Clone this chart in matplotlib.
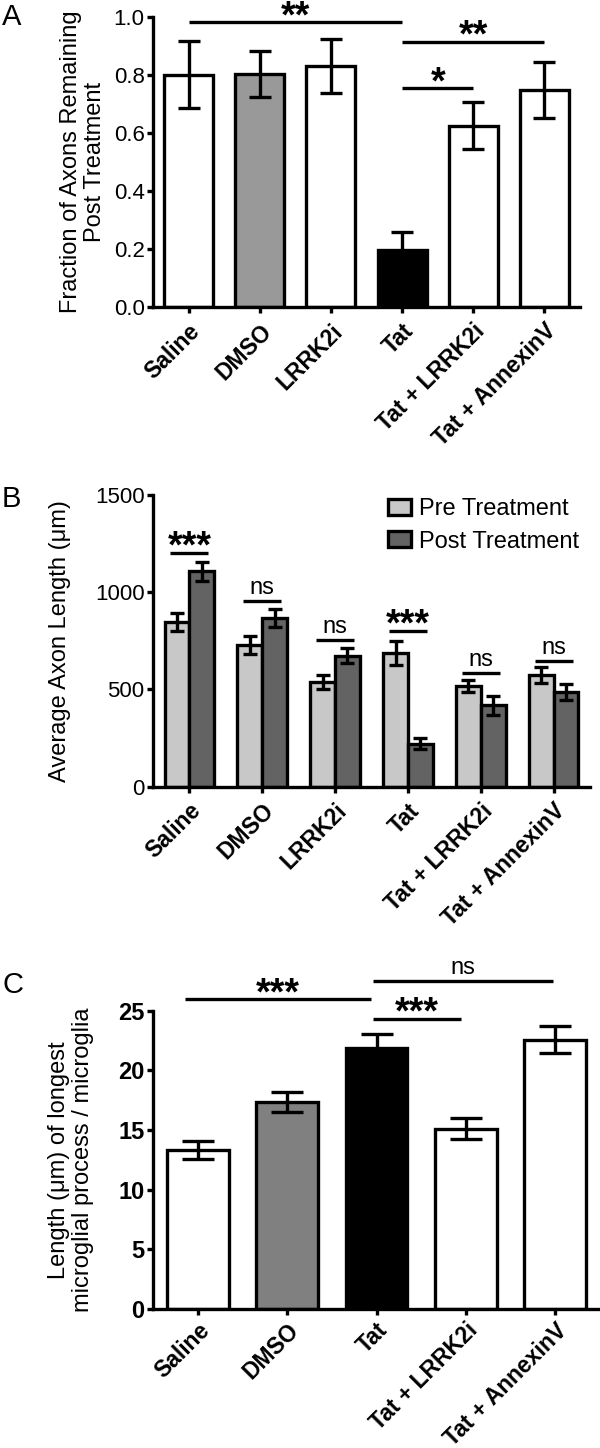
import numpy as np
import matplotlib
matplotlib.use("Agg")
import matplotlib.pyplot as plt

plt.rcParams['font.family'] = ['Liberation Sans', 'DejaVu Sans']

# Panel A data
groups_a = ['Saline', 'DMSO', 'LRRK2i', 'Tat', 'Tat + LRRK2i', 'Tat + AnnexinV']
frac_a = [0.80, 0.803, 0.831, 0.197, 0.625, 0.748]
err_a = [0.115, 0.08, 0.093, 0.06, 0.082, 0.097]
colors_a = ['white', '#999999', 'white', 'black', 'white', 'white']

# Panel B data
groups_b = ['Saline', 'DMSO', 'LRRK2i', 'Tat', 'Tat + LRRK2i', 'Tat + AnnexinV']
pre_b = [846, 728, 537, 688, 517, 574]
pre_err_b = [45, 47, 35, 63, 32, 39]
post_b = [1108, 868, 673, 222, 418, 487]
post_err_b = [50, 46, 39, 30, 49, 41]
sig_b = ['***', 'ns', 'ns', '***', 'ns', 'ns']
sig_y_b = [1203, 957, 754, 802, 586, 648]

# Panel C data
groups_c = ['Saline', 'DMSO', 'Tat', 'Tat + LRRK2i', 'Tat + AnnexinV']
len_c = [13.3, 17.35, 21.9, 15.12, 22.58]
err_c = [0.74, 0.8, 1.15, 0.86, 1.16]
colors_c = ['white', '#808080', 'black', 'white', 'white']

LW = 2.4
W, H = 600, 1448
fig = plt.figure(figsize=(W / 100, H / 100), dpi=100)


def px_axes(left, right, top, bottom):
    return fig.add_axes([left / W, 1 - bottom / H, (right - left) / W, (bottom - top) / H])


def style_axes(ax, bold_y=False):
    for s in ['top', 'right']:
        ax.spines[s].set_visible(False)
    for s in ['left', 'bottom']:
        ax.spines[s].set_linewidth(LW)
    ax.tick_params(width=LW, length=4, labelsize=16, pad=2)
    ax.tick_params(axis='x', pad=5)
    if bold_y:
        for t in ax.get_yticklabels():
            t.set_fontweight('bold')
            t.set_fontsize(17)


def xlabels(ax, labels, fs=16.5):
    ax.set_xticklabels(labels, rotation=45, ha='right', rotation_mode='anchor',
                       fontweight='bold', fontsize=fs)


def sig_line(ax, x0, x1, y, text):
    ax.plot([x0, x1], [y, y], color='black', lw=LW, clip_on=False, solid_capstyle='butt')
    if text == 'ns':
        ax.annotate(text, xy=((x0 + x1) / 2, y), xytext=(0, 5), textcoords='offset points',
                    ha='center', va='baseline', fontsize=17, annotation_clip=False)
    else:
        ax.annotate(text, xy=((x0 + x1) / 2, y), xytext=(0, -3.5), textcoords='offset points',
                    ha='center', va='baseline', fontsize=27, fontweight='bold',
                    annotation_clip=False)


# ---------- A ----------
axA = px_axes(153, 580, 16.7, 307)
xa = np.arange(len(groups_a))
axA.bar(xa, frac_a, width=0.69, color=colors_a, edgecolor='black', linewidth=LW,
        yerr=err_a, error_kw=dict(elinewidth=LW, capsize=8, capthick=LW, ecolor='black'))
axA.set_xlim(-0.5, 5.5)
axA.set_ylim(0, 1.0)
axA.set_yticks([0.0, 0.2, 0.4, 0.6, 0.8, 1.0])
axA.set_yticklabels(['0.0', '0.2', '0.4', '0.6', '0.8', '1.0'])
axA.set_xticks(xa)
style_axes(axA)
xlabels(axA, groups_a)
axA.set_ylabel('Fraction of Axons Remaining\nPost Treatment', fontsize=17, linespacing=1.1)
axA.yaxis.set_label_coords(-0.11, 0.5)
sig_line(axA, 0, 3, 0.981, '**')
sig_line(axA, 3, 5, 0.914, '**')
sig_line(axA, 3, 4, 0.753, '*')

# ---------- B ----------
axB = px_axes(153, 590, 495, 786.7)
xb = np.arange(len(groups_b))
ekw = dict(elinewidth=LW, capsize=5, capthick=LW, ecolor='black')
axB.bar(xb - 0.17, pre_b, width=0.34, color='#c8c8c8', edgecolor='black', linewidth=LW,
        yerr=pre_err_b, error_kw=ekw, label='Pre Treatment')
axB.bar(xb + 0.17, post_b, width=0.34, color='#636363', edgecolor='black', linewidth=LW,
        yerr=post_err_b, error_kw=ekw, label='Post Treatment')
axB.set_xlim(-0.5, 5.5)
axB.set_ylim(0, 1500)
axB.set_yticks([0, 500, 1000, 1500])
axB.set_xticks(xb)
style_axes(axB)
xlabels(axB, groups_b)
axB.set_ylabel('Average Axon Length (\u03bcm)', fontsize=17)
axB.yaxis.set_label_coords(-0.188, 0.5)
for i in range(len(groups_b)):
    sig_line(axB, i - 0.26, i + 0.26, sig_y_b[i], sig_b[i])
axB.legend(loc='upper left', bbox_to_anchor=(0.538, 0.99), borderaxespad=0, borderpad=0,
           frameon=False, fontsize=17, handlelength=0.95, handleheight=0.65,
           handletextpad=0.35, labelspacing=0.45)

# ---------- C ----------
axC = px_axes(153, 600, 1010.7, 1309)
xc = np.arange(len(groups_c))
axC.bar(xc, len_c, width=0.69, color=colors_c, edgecolor='black', linewidth=LW,
        yerr=err_c, error_kw=dict(elinewidth=LW, capsize=11.5, capthick=LW, ecolor='black'))
axC.set_xlim(-0.5, 4.5)
axC.set_ylim(0, 25)
axC.set_yticks([0, 5, 10, 15, 20, 25])
axC.set_xticks(xc)
style_axes(axC, bold_y=True)
axC.tick_params(axis='x', pad=3)
xlabels(axC, groups_c, fs=16.5)
axC.set_ylabel('Length (\u03bcm) of longest\nmicroglial process / microglia', fontsize=17,
               linespacing=1.1)
axC.yaxis.set_label_coords(-0.132, 0.5)
sig_line(axC, -0.14, 1.94, 25.95, '***')
sig_line(axC, 1.96, 3.97, 27.49, 'ns')
sig_line(axC, 1.96, 2.94, 24.3, '***')

# panel letters
fig.text(2 / W, 1 - 25 / H, 'A', fontsize=21)
fig.text(2 / W, 1 - 507 / H, 'B', fontsize=21)
fig.text(2 / W, 1 - 993 / H, 'C', fontsize=21)

fig.savefig('out.png', dpi=100)
